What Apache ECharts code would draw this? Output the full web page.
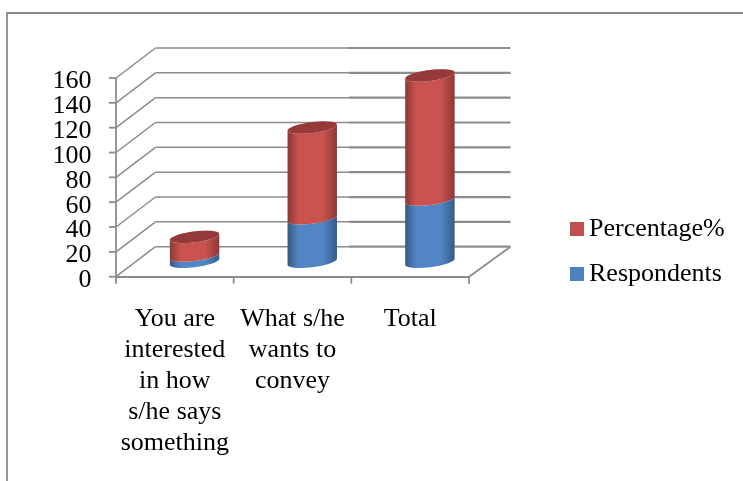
<!DOCTYPE html>
<html><head><meta charset="utf-8">
<style>html,body{margin:0;padding:0;background:#fff}#c{width:743px;height:481px}</style>
<script src="https://cdn.jsdelivr.net/npm/echarts@6/dist/echarts.min.js"></script>
</head><body><div id="c"></div>
<script>
const categories = ['You are\ninterested\nin how\ns/he says\nsomething', 'What s/he\nwants to\nconvey', 'Total'];
const respondents = [5, 35, 50];
const percentage = [15, 73, 100];
const yTicks = [0, 20, 40, 60, 80, 100, 120, 140, 160];

const FONT = '"Liberation Serif","Times New Roman",serif';
const AXIS = '#8c8c8c';
const DEPTH_X = 39.5, DEPTH_Y = -30;

function ellipsePoint(cx, cy, a, t, b, th) {
  return [cx + a * Math.cos(th), cy - t * Math.cos(th) - b * Math.sin(th)];
}
function bodyPoints(cx, y0, y1, a, t, b) {
  const pts = [];
  for (let i = 0; i <= 24; i++) pts.push(ellipsePoint(cx, y0, a, t, b, Math.PI + Math.PI * i / 24));
  for (let i = 24; i >= 0; i--) pts.push(ellipsePoint(cx, y1, a, t, b, Math.PI + Math.PI * i / 24));
  return pts;
}
function capPoints(cx, y, a, t, b) {
  const pts = [];
  for (let i = 0; i < 48; i++) pts.push(ellipsePoint(cx, y, a, t, b, Math.PI * 2 * i / 48));
  return pts;
}
function hGrad(edgeL, mid, edgeR) {
  return { type: 'linear', x: 0, y: 0, x2: 1, y2: 0, colorStops: [
    { offset: 0, color: edgeL }, { offset: 0.22, color: mid }, { offset: 0.72, color: mid }, { offset: 1, color: edgeR }
  ]};
}
function cylinder(grad, topColor) {
  return function (params, api) {
    const idx = api.value(0);
    const base = api.coord([idx, api.value(1)]);
    const top = api.coord([idx, api.value(2)]);
    const a = api.size([1, 0])[0] * 0.21;
    const t = 3, b = 5.5;
    const cx = base[0] + DEPTH_X / 2;
    const y0 = base[1] + DEPTH_Y / 2;
    const y1 = top[1] + DEPTH_Y / 2;
    const children = [{
      type: 'polygon', shape: { points: bodyPoints(cx, y0, y1, a, t, b) }, style: { fill: grad }
    }];
    if (topColor) children.push({
      type: 'polygon', shape: { points: capPoints(cx, y1, a, t, b) }, style: { fill: topColor }
    });
    return { type: 'group', children };
  };
}
function wall(params, api) {
  const v = api.value(1);
  const cs = params.coordSys;
  const p = api.coord([0, v]);
  const x0 = cs.x, x1 = cs.x + cs.width, y = p[1];
  const split = 349;
  const ln = (a, b, c, d, w) => ({ type: 'line', shape: { x1: a, y1: b, x2: c, y2: d },
    style: { stroke: AXIS, lineWidth: w } });
  const children = [
    ln(x0 - 7, y, x0, y, 1.8),
    ln(x0, y, x0 + DEPTH_X, y + DEPTH_Y, 1.5),
    ln(x0 + DEPTH_X, y + DEPTH_Y, split, y + DEPTH_Y, 1.5),
    ln(split, y + DEPTH_Y, x1 + DEPTH_X + 2, y + DEPTH_Y, 2.2),
    { type: 'text', x: x0 - 24.5, y: y + 3.5,
      style: { text: String(v), align: 'right', verticalAlign: 'middle',
        fontFamily: FONT, fontSize: 26, fill: '#000' } }
  ];
  if (v === 0) {
    children.push(ln(x1, y, x1 + DEPTH_X + 2, y + DEPTH_Y, 1.8));
    for (let i = 0; i <= categories.length; i++) {
      const tx = x0 + cs.width * i / categories.length;
      children.push(ln(tx, y, tx, y + 7, 1.8));
    }
  }
  return { type: 'group', children };
}

const acc = respondents.map((r, i) => r + percentage[i]);
const chart = echarts.init(document.getElementById('c'), null, { renderer: 'canvas' });
chart.setOption({
  animation: false,
  backgroundColor: '#fff',
  graphic: [
    { type: 'polyline', silent: true, shape: { points: [[7, 481], [7, 13], [743, 13]] },
      style: { stroke: AXIS, lineWidth: 1.8, fill: null } }
  ],
  grid: { left: 116, top: 78, width: 353, height: 198.7 },
  legend: {
    orient: 'vertical', left: 570, top: 216, padding: 0, itemWidth: 14, itemHeight: 14, itemGap: 19,
    icon: 'rect', data: ['Percentage%', 'Respondents'],
    textStyle: { fontFamily: FONT, fontSize: 26, color: '#000' }
  },
  xAxis: {
    type: 'category', data: categories,
    axisLine: { lineStyle: { color: AXIS, width: 1.8 } },
    axisTick: { show: false },
    axisLabel: { interval: 0, fontFamily: FONT, fontSize: 26, lineHeight: 31, color: '#000', margin: 27 }
  },
  yAxis: {
    type: 'value', min: 0, max: 160, interval: 20,
    axisLine: { show: true, lineStyle: { color: AXIS, width: 1.8 } },
    axisTick: { show: false },
    splitLine: { show: false },
    axisLabel: { show: false }
  },
  series: [
    { type: 'custom', name: 'wall', silent: true, z: 1, renderItem: wall,
      data: yTicks.map(v => [0, v]), encode: { x: 0, y: 1 } },
    { type: 'custom', name: 'Respondents', z: 2, itemStyle: { color: '#4F81BD' },
      renderItem: cylinder(hGrad('#34597f', '#5285c6', '#355c8a')),
      data: respondents.map((r, i) => [i, 0, r]), encode: { x: 0, y: [1, 2] } },
    { type: 'custom', name: 'Percentage%', z: 3, itemStyle: { color: '#C0504D' },
      renderItem: cylinder(hGrad('#8c3735', '#ca5350', '#8c3735'), '#953a38'),
      data: percentage.map((p, i) => [i, respondents[i], acc[i]]), encode: { x: 0, y: [1, 2] } }
  ]
});
</script>
</body></html>
